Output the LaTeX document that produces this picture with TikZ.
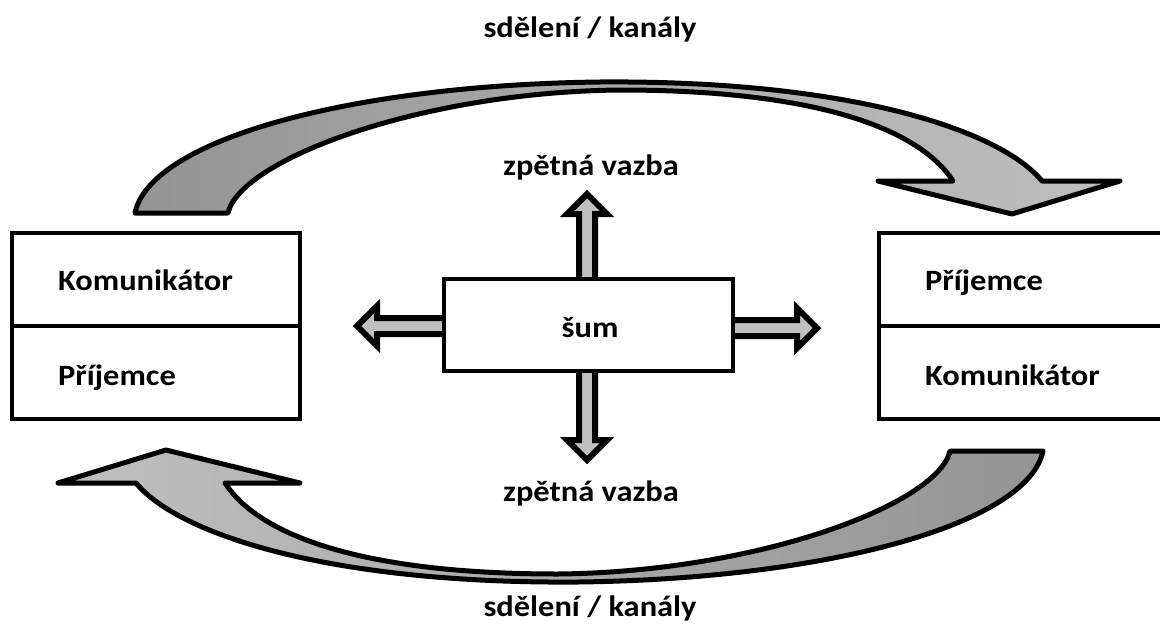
\documentclass[tikz,border=0pt]{standalone}
\usepackage{fontspec}
\setmainfont{Carlito}[FakeStretch=1.1]
\begin{document}
\begin{tikzpicture}[x=1pt,y=-1pt,
  bigarrow/.style={draw=black,line width=5pt,line join=round},
  smallarr/.style={draw=black,fill=black!25,line width=6pt,line join=miter},
  box/.style={draw=black,fill=white,line width=4pt,inner sep=0pt,outer sep=0pt},
  lbl/.style={inner sep=0pt,font=\fontsize{29.5}{34}\selectfont\bfseries},
  pics/blockarr/.style={code={
    \draw[smallarr] (0,-8) -- (#1,-8) -- (#1,-20) -- ({#1+20},0) -- (#1,20) -- (#1,8) -- (0,8);
  }}]
\useasboundingbox (0,0) rectangle (1160,643);
% big curved arrows
\path[bigarrow,left color=black!42,right color=black!25]
  (135,213) .. controls (150,140) and (350,85) .. (600,82)
  .. controls (850,80) and (1000,130) .. (1042,181)
  -- (1120,181) -- (1012,214) -- (878,181) -- (953,181)
  .. controls (920,130) and (820,90) .. (620,90)
  .. controls (420,92) and (240,160) .. (228,213) -- cycle;
\path[bigarrow,left color=black!25,right color=black!42]
  (1043,451) .. controls (1028,524) and (828,579) .. (578,582)
  .. controls (328,584) and (178,534) .. (136,483)
  -- (58,483) -- (166,450) -- (300,483) -- (225,483)
  .. controls (258,534) and (358,574) .. (558,574)
  .. controls (758,572) and (938,504) .. (950,451) -- cycle;
% small block arrows
\pic[rotate=90] at (587,279) {blockarr=65};
\pic[rotate=-90] at (587,371) {blockarr=69};
\pic[rotate=180] at (444,326) {blockarr=67};
\pic at (733,328) {blockarr=64};
% boxes
\node[box,minimum width=289pt,minimum height=92pt] (sum) at (588.5,325) {};
\node[box,minimum width=288pt,minimum height=186pt] (L) at (156,326) {};
\node[box,minimum width=296pt,minimum height=186pt] (R) at (1027,326) {};
\draw[line width=4pt] (L.west) -- (L.east);
\draw[line width=4pt] (R.west) -- (R.east);
% texts
\node[lbl,anchor=base] (t1) at (590,37) {sdělení / kanály};
\node[lbl,anchor=base] (t2) at (590,616) {sdělení / kanály};
\node[lbl,anchor=base] (z1) at (591,175) {zpětná vazba};
\node[lbl,anchor=base] (z2) at (591,501) {zpětná vazba};
\node[lbl,anchor=base] (s) at (590,337) {šum};
\node[lbl,anchor=base west] (lk) at (58,290) {Komunikátor};
\node[lbl,anchor=base west] (lp) at (58,385) {Příjemce};
\node[lbl,anchor=base west] (rp) at (925,290) {Příjemce};
\node[lbl,anchor=base west] (rk) at (925,385) {Komunikátor};
\end{tikzpicture}
\end{document}
